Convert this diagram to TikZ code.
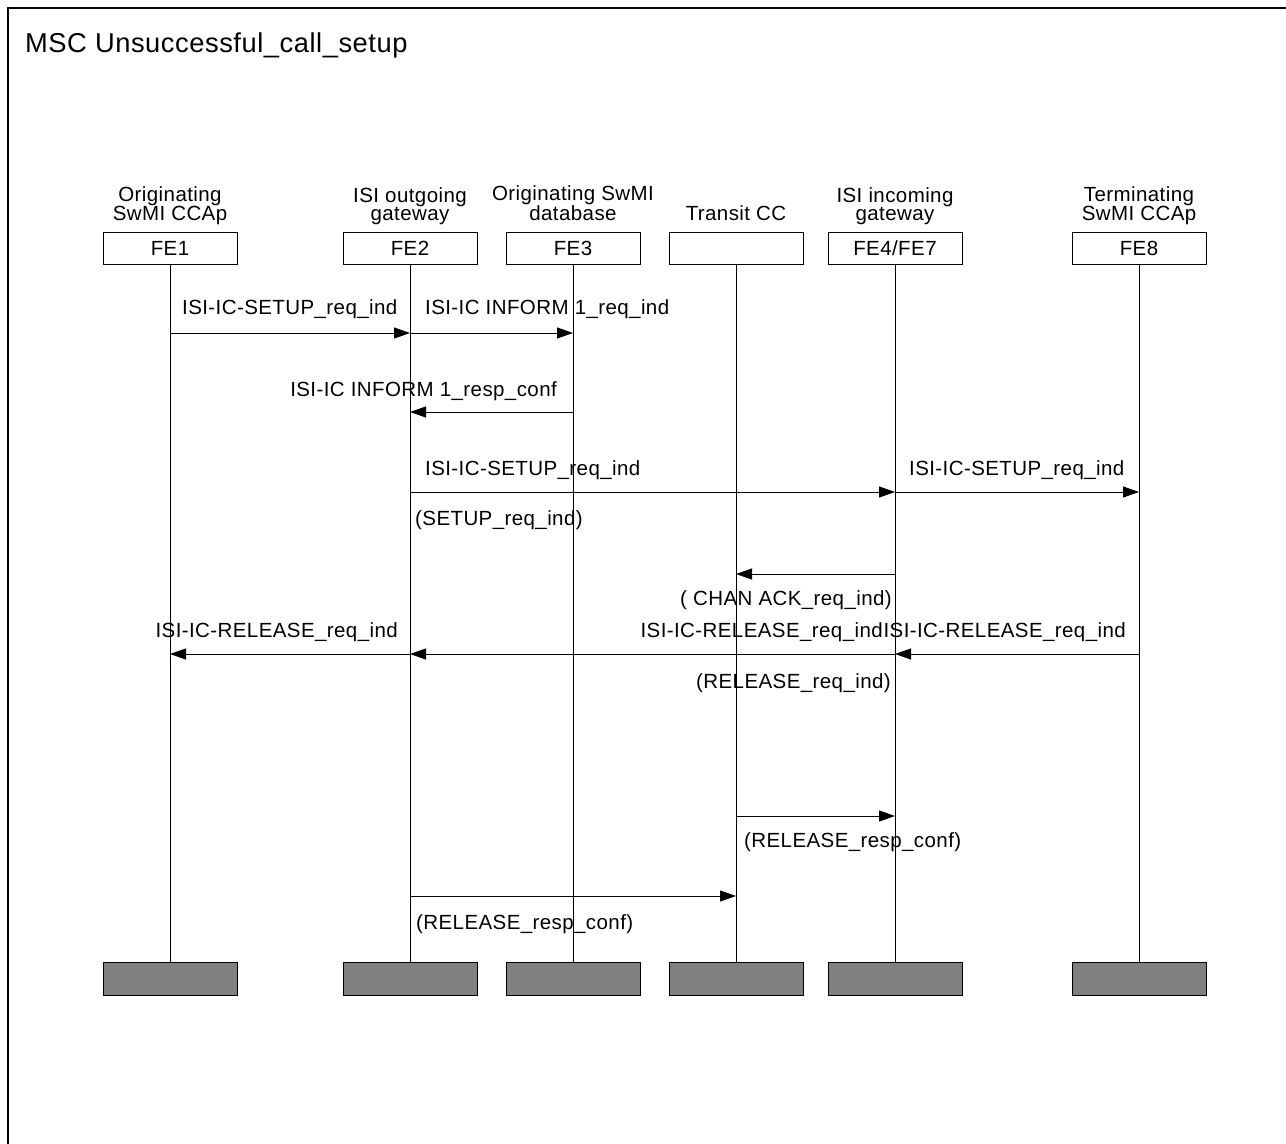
\documentclass[tikz,border=0pt]{standalone}
\usepackage{fontspec}
\setmainfont[LetterSpace=2]{Liberation Sans}
\usetikzlibrary{arrows.meta}
\begin{document}
\begin{tikzpicture}[x=1pt,y=-1pt,
  every node/.style={inner sep=0pt},
  txt/.style={font=\fontsize{20.5}{18}\selectfont},
  fe/.style={draw,line width=1pt,minimum width=134pt,minimum height=32pt,txt},
  febot/.style={draw,line width=1pt,fill=black!50,minimum width=134pt,minimum height=33pt},
  head/.style={txt,align=center,anchor=south,text depth=4pt},
  life/.style={line width=0.9pt},
  msg/.style={line width=0.9pt,-{Triangle[length=16pt,width=11pt]}},
  lblw/.style={txt,anchor=west},
  lble/.style={txt,anchor=east}]
\useasboundingbox (0,0) rectangle (1286,1144);
\draw[line width=1.5pt] (8,1150) -- (8,8) -- (1290,8);
\node[font=\fontsize{27.3}{30}\selectfont,anchor=west] (title) at (25,45) {MSC Unsuccessful\_call\_setup};
% top boxes
\node[fe] (FE1) at (170,248) {FE1};
\node[fe] (FE2) at (410,248) {FE2};
\node[fe] (FE3) at (573,248) {FE3};
\node[fe] (TCC) at (736,248) {};
\node[fe] (FE4) at (895,248) {FE4/FE7};
\node[fe] (FE8) at (1139,248) {FE8};
% headers
\node[head] (h1) at (170,225) {Originating\\SwMI CCAp};
\node[head] (h2) at (410,225) {ISI outgoing\\gateway};
\node[head] (h3) at (573,225) {Originating SwMI\\database};
\node[head] (h4) at (736,225) {Transit CC};
\node[head] (h5) at (895,225) {ISI incoming\\gateway};
\node[head] (h6) at (1139,225) {Terminating\\SwMI CCAp};
% end boxes
\node[febot] (E1) at (170,978.5) {};
\node[febot] (E2) at (410,978.5) {};
\node[febot] (E3) at (573,978.5) {};
\node[febot] (ETCC) at (736,978.5) {};
\node[febot] (E4) at (895,978.5) {};
\node[febot] (E8) at (1139,978.5) {};
% lifelines
\foreach \a/\b in {FE1/E1,FE2/E2,FE3/E3,TCC/ETCC,FE4/E4,FE8/E8}
  \draw[life] (\a.south) -- (\b.north);
% messages
\draw[msg] (FE1 |- 0,333) -- (FE2 |- 0,333);
\node[lblw] (l1) at (182,309) {ISI-IC-SETUP\_req\_ind};
\draw[msg] (FE2 |- 0,333) -- (FE3 |- 0,333);
\node[lblw] (l2) at (425,309) {ISI-IC INFORM 1\_req\_ind};
\draw[msg] (FE3 |- 0,412) -- (FE2 |- 0,412);
\node[lble] (l3) at (557,391) {ISI-IC INFORM 1\_resp\_conf};
\draw[msg] (FE2 |- 0,492) -- (FE4 |- 0,492);
\node[lblw] (l4) at (425,470) {ISI-IC-SETUP\_req\_ind};
\node[lblw] (l4b) at (415,520) {(SETUP\_req\_ind)};
\draw[msg] (FE4 |- 0,492) -- (FE8 |- 0,492);
\node[lblw] (l5) at (909,470) {ISI-IC-SETUP\_req\_ind};
\draw[msg] (FE4 |- 0,574) -- (TCC |- 0,574);
\node[lble] (l6) at (892,600) {( CHAN ACK\_req\_ind)};
\draw[msg] (FE8 |- 0,654) -- (FE4 |- 0,654);
\node[lble] (l7) at (1126,632) {ISI-IC-RELEASE\_req\_ind};
\draw[msg] (FE4 |- 0,654) -- (FE2 |- 0,654);
\node[lble] (l8) at (883,632) {ISI-IC-RELEASE\_req\_ind};
\node[lble] (l8b) at (891,683) {(RELEASE\_req\_ind)};
\draw[msg] (FE2 |- 0,654) -- (FE1 |- 0,654);
\node[lble] (l9) at (398,632) {ISI-IC-RELEASE\_req\_ind};
\draw[msg] (TCC |- 0,816) -- (FE4 |- 0,816);
\node[lblw] (l10) at (744,842) {(RELEASE\_resp\_conf)};
\draw[msg] (FE2 |- 0,896) -- (TCC |- 0,896);
\node[lblw] (l11) at (416,924) {(RELEASE\_resp\_conf)};
\end{tikzpicture}
\end{document}
